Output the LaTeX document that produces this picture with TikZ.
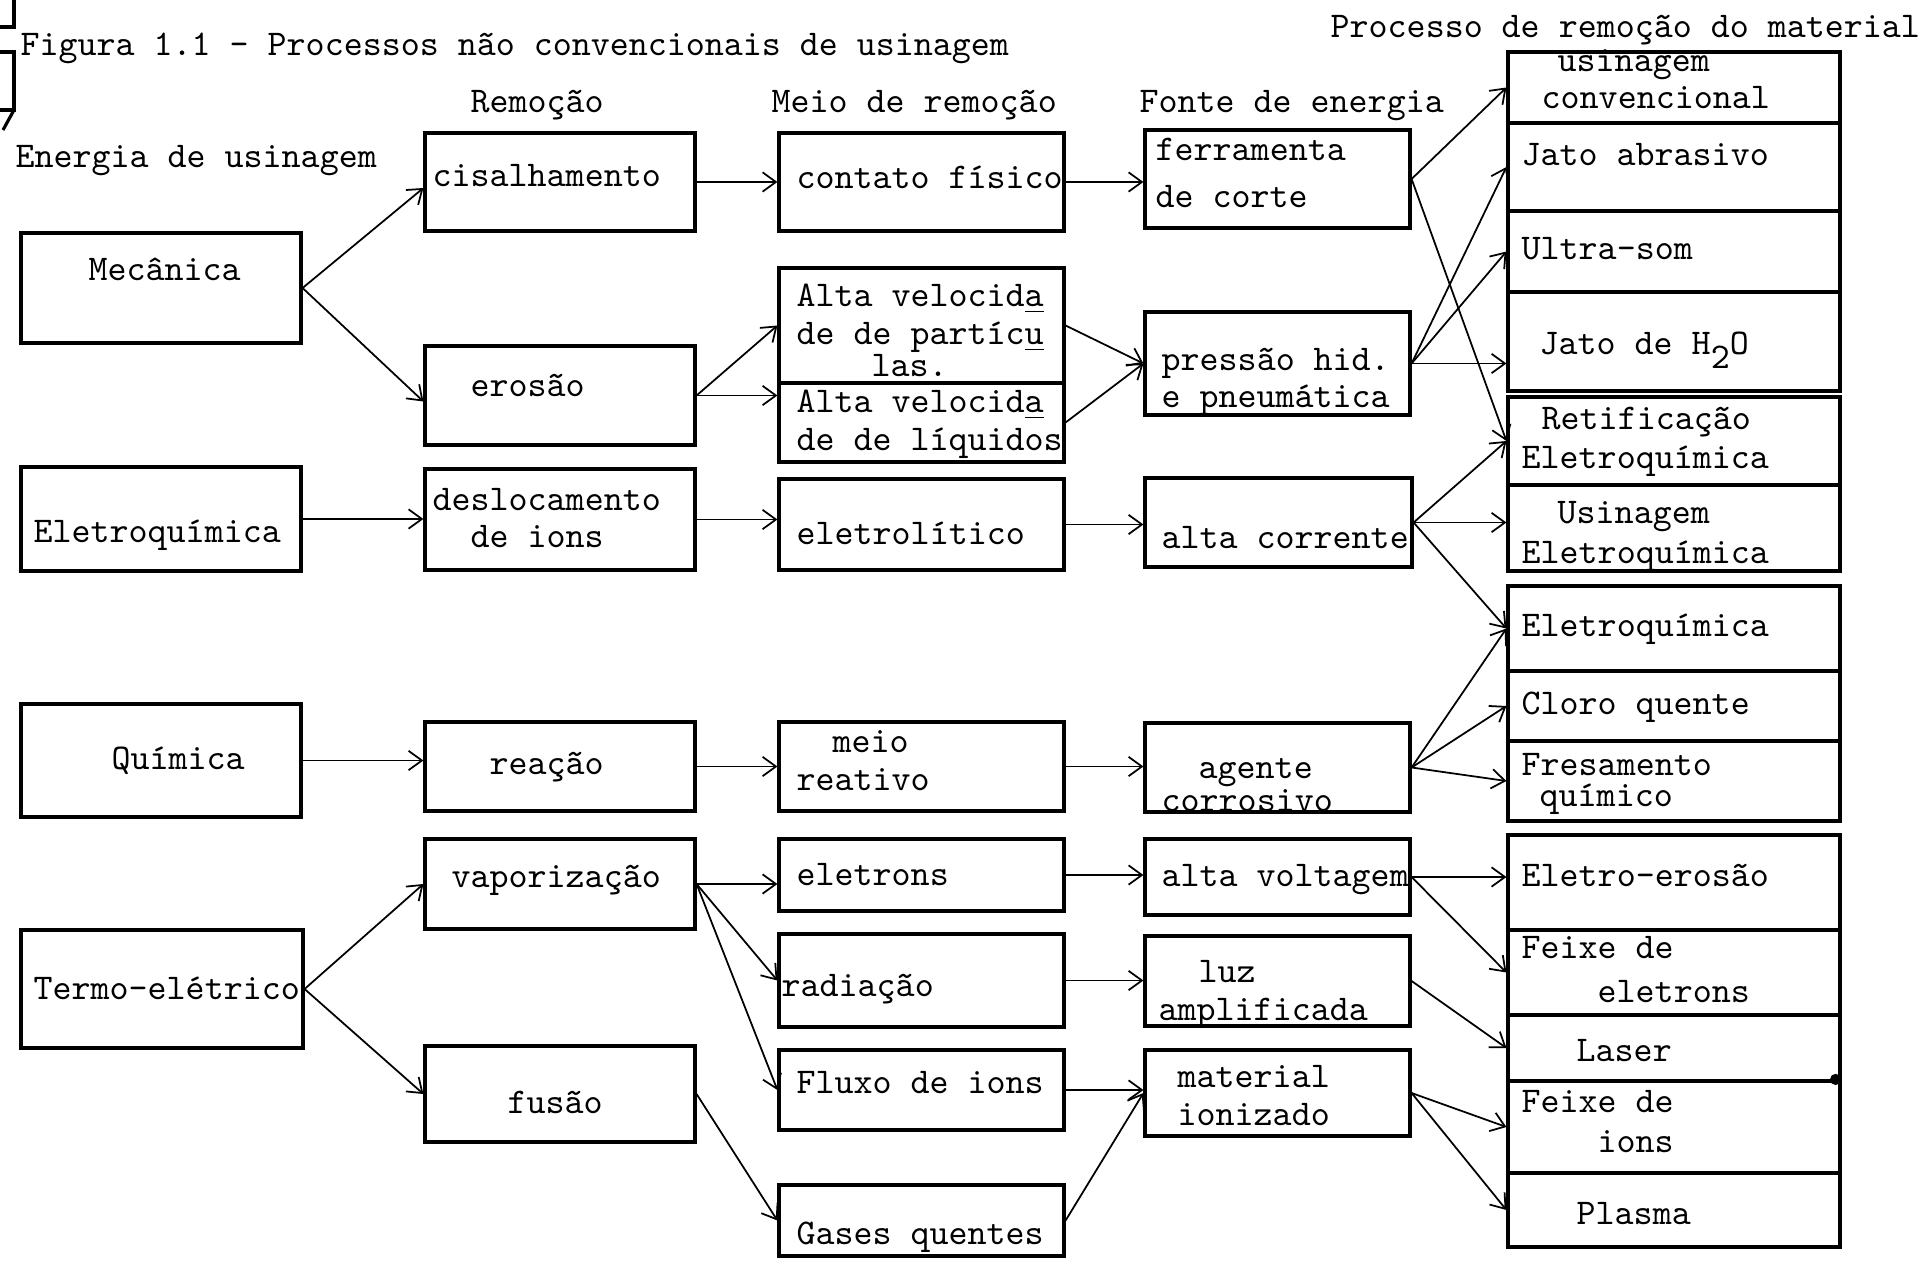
\documentclass[tikz,border=0pt]{standalone}
\usetikzlibrary{arrows.meta, fit}

\begin{document}
\begin{tikzpicture}[
    box/.style={draw, line width=0.9pt, inner sep=0pt},
    txt/.style={inner sep=0pt, anchor=mid west, yshift=-0.03cm, font=\ttfamily\fontsize{10.3}{10.5}\selectfont},
    conn/.style={-{Straight Barb[length=3.8pt, width=5.5pt]}, line width=0.5pt}
]
    \useasboundingbox (0,0) rectangle (19.26,-12.62);

    % Margin marks
    \draw[line width=0.9pt] (0.14,0) -- (0.14,-0.27) -- (0,-0.27);
    \draw[line width=0.9pt] (0,-0.52) -- (0.14,-0.52) -- (0.14,-1.10) -- (0,-1.10);
    \draw[line width=0.9pt] (0.14,-1.10) -- (0.03,-1.30);

    % Headings
    \node[txt] (title) at (0.20,-0.45) {Figura 1.1 - Processos não convencionais de usinagem};
    \node[txt] (h-proc) at (13.30,-0.27) {Processo de remoção do material};
    \node[txt] (h-rem) at (4.70,-1.02) {Remoção};
    \node[txt] (h-meio) at (7.71,-1.02) {Meio de remoção};
    \node[txt] (h-fonte) at (11.39,-1.02) {Fonte de energia};
    \node[txt] (h-ener) at (0.15,-1.57) {Energia de usinagem};

    % Energia de usinagem
    \node[box, fit={(0.21,-2.33) (3.01,-3.43)}] (mec) {};
    \node[box, fit={(0.21,-4.67) (3.01,-5.71)}] (eqm) {};
    \node[box, fit={(0.21,-7.04) (3.01,-8.17)}] (qui) {};
    \node[box, fit={(0.21,-9.30) (3.03,-10.48)}] (ter) {};
    \node[txt] (mec-t) at (0.88,-2.70) {Mecânica};
    \node[txt] (eqm-t) at (0.33,-5.32) {Eletroquímica};
    \node[txt] (qui-t) at (1.11,-7.59) {Química};
    \node[txt] (ter-t) at (0.33,-9.89) {Termo-elétrico};

    % Remocao
    \node[box, fit={(4.25,-1.33) (6.95,-2.31)}] (cis) {};
    \node[box, fit={(4.25,-3.46) (6.95,-4.45)}] (ero) {};
    \node[box, fit={(4.25,-4.69) (6.95,-5.70)}] (des) {};
    \node[box, fit={(4.25,-7.22) (6.95,-8.11)}] (rea) {};
    \node[box, fit={(4.25,-8.39) (6.95,-9.29)}] (vap) {};
    \node[box, fit={(4.25,-10.46) (6.95,-11.42)}] (fus) {};
    \node[txt] (cis-t) at (4.32,-1.76) {cisalhamento};
    \node[txt] (ero-t) at (4.70,-3.86) {erosão};
    \node[txt] (des-a) at (4.32,-5.00) {deslocamento};
    \node[txt] (des-b) at (4.70,-5.37) {de ions};
    \node[txt] (rea-t) at (4.89,-7.64) {reação};
    \node[txt] (vap-t) at (4.51,-8.77) {vaporização};
    \node[txt] (fus-t) at (5.07,-11.03) {fusão};

    % Meio de remocao
    \node[box, fit={(7.79,-1.33) (10.64,-2.31)}] (con) {};
    \node[box, fit={(7.79,-2.68) (10.64,-3.83)}] (par) {};
    \node[box, fit={(7.79,-3.83) (10.64,-4.62)}] (liq) {};
    \node[box, fit={(7.79,-4.79) (10.64,-5.70)}] (elt) {};
    \node[box, fit={(7.79,-7.22) (10.64,-8.11)}] (mei) {};
    \node[box, fit={(7.79,-8.39) (10.64,-9.11)}] (ele) {};
    \node[box, fit={(7.79,-9.34) (10.64,-10.27)}] (rad) {};
    \node[box, fit={(7.79,-10.50) (10.64,-11.30)}] (flu) {};
    \node[box, fit={(7.79,-11.85) (10.64,-12.56)}] (gas) {};
    \node[txt] (con-t) at (7.96,-1.78) {contato físico};
    \node[txt] (par-a) at (7.96,-2.96) {Alta velocid\underline{a}};
    \node[txt] (par-b) at (7.96,-3.34) {de de partíc\underline{u}};
    \node[txt] (par-c) at (8.71,-3.66) {las.};
    \node[txt] (liq-a) at (7.96,-4.02) {Alta velocid\underline{a}};
    \node[txt] (liq-b) at (7.96,-4.40) {de de líquidos};
    \node[txt] (elt-t) at (7.96,-5.34) {eletrolítico};
    \node[txt] (mei-a) at (8.32,-7.42) {meio};
    \node[txt] (mei-b) at (7.96,-7.80) {reativo};
    \node[txt] (ele-t) at (7.96,-8.75) {eletrons};
    \node[txt] (rad-t) at (7.81,-9.86) {radiação};
    \node[txt] (flu-t) at (7.96,-10.83) {Fluxo de ions};
    \node[txt] (gas-t) at (7.96,-12.34) {Gases quentes};

    % Fonte de energia
    \node[box, fit={(11.45,-1.30) (14.10,-2.28)}] (fer) {};
    \node[box, fit={(11.45,-3.12) (14.10,-4.15)}] (pre) {};
    \node[box, fit={(11.45,-4.78) (14.12,-5.67)}] (acor) {};
    \node[box, fit={(11.45,-7.23) (14.10,-8.12)}] (age) {};
    \node[box, fit={(11.45,-8.39) (14.10,-9.15)}] (vol) {};
    \node[box, fit={(11.45,-9.36) (14.10,-10.26)}] (luz) {};
    \node[box, fit={(11.45,-10.50) (14.10,-11.36)}] (mat) {};
    \node[txt] (fer-a) at (11.55,-1.50) {ferramenta};
    \node[txt] (fer-b) at (11.55,-1.97) {de corte};
    \node[txt] (pre-a) at (11.61,-3.60) {pressão hid.};
    \node[txt] (pre-b) at (11.61,-3.97) {e pneumática};
    \node[txt] (acor-t) at (11.61,-5.38) {alta corrente};
    \node[txt] (age-a) at (11.98,-7.68) {agente};
    \node[txt] (age-b) at (11.61,-8.01) {corrosivo};
    \node[txt] (vol-t) at (11.61,-8.76) {alta voltagem};
    \node[txt] (luz-a) at (11.98,-9.72) {luz};
    \node[txt] (luz-b) at (11.58,-10.10) {amplificada};
    \node[txt] (mat-a) at (11.77,-10.77) {material};
    \node[txt] (mat-b) at (11.77,-11.15) {ionizado};

    % Processo de remocao do material
    \node[box, fit={(15.08,-0.52) (18.40,-1.23)}] (usi) {};
    \node[box, fit={(15.08,-1.23) (18.40,-2.11)}] (jab) {};
    \node[box, fit={(15.08,-2.11) (18.40,-2.92)}] (ult) {};
    \node[box, fit={(15.08,-2.92) (18.40,-3.91)}] (jag) {};
    \node[box, fit={(15.08,-3.97) (18.40,-4.85)}] (ret) {};
    \node[box, fit={(15.08,-4.85) (18.40,-5.71)}] (uel) {};
    \node[box, fit={(15.08,-5.86) (18.40,-6.71)}] (elq) {};
    \node[box, fit={(15.08,-6.71) (18.40,-7.41)}] (clo) {};
    \node[box, fit={(15.08,-7.41) (18.40,-8.21)}] (fre) {};
    \node[box, fit={(15.08,-8.35) (18.40,-9.30)}] (eer) {};
    \node[box, fit={(15.08,-9.30) (18.40,-10.15)}] (fel) {};
    \node[box, fit={(15.08,-10.15) (18.40,-10.81)}] (las) {};
    \node[box, fit={(15.08,-10.81) (18.40,-11.73)}] (fio) {};
    \node[box, fit={(15.08,-11.73) (18.40,-12.47)}] (pla) {};
    \fill ([xshift=-0.06cm]fio.north east) circle (1.6pt);
    \node[txt] (usi-a) at (15.57,-0.61) {usinagem};
    \node[txt] (usi-b) at (15.41,-0.98) {convencional};
    \node[txt] (jab-t) at (15.21,-1.55) {Jato abrasivo};
    \node[txt] (ult-t) at (15.21,-2.49) {Ultra-som};
    \node[txt] (jag-t) at (15.39,-3.44) {Jato de H\raisebox{-0.9ex}{2}O};
    \node[txt] (ret-a) at (15.41,-4.19) {Retificação};
    \node[txt] (ret-b) at (15.21,-4.58) {Eletroquímica};
    \node[txt] (uel-a) at (15.57,-5.13) {Usinagem};
    \node[txt] (uel-b) at (15.21,-5.53) {Eletroquímica};
    \node[txt] (elq-t) at (15.21,-6.26) {Eletroquímica};
    \node[txt] (clo-t) at (15.21,-7.04) {Cloro quente};
    \node[txt] (fre-a) at (15.21,-7.65) {Fresamento};
    \node[txt] (fre-b) at (15.39,-7.96) {químico};
    \node[txt] (eer-t) at (15.21,-8.76) {Eletro-erosão};
    \node[txt] (fel-a) at (15.21,-9.48) {Feixe de};
    \node[txt] (fel-b) at (15.97,-9.92) {eletrons};
    \node[txt] (las-t) at (15.76,-10.51) {Laser};
    \node[txt] (fio-a) at (15.21,-11.02) {Feixe de};
    \node[txt] (fio-b) at (15.97,-11.42) {ions};
    \node[txt] (pla-t) at (15.76,-12.14) {Plasma};

    % Mecanica
    \draw[conn] (mec.east) -- ([yshift=-0.06cm]cis.west);
    \draw[conn] (mec.east) -- ([yshift=-0.06cm]ero.west);
    \draw[conn] (cis.east) -- (cis.east -| con.west);
    \draw[conn] (con.east) -- (con.east -| fer.west);
    \draw[conn] (ero.east) -- (par.west);
    \draw[conn] (ero.east) -- (ero.east -| liq.west);
    \draw[conn] (par.east) -- (pre.west);
    \draw[conn] (liq.east) -- (pre.west);
    \draw[conn] (fer.east) -- (usi.west);
    \draw[conn] (fer.east) -- (ret.west);
    \draw[conn] (pre.east) -- (jab.west);
    \draw[conn] (pre.east) -- (ult.west);
    \draw[conn] (pre.east) -- (pre.east -| jag.west);

    % Eletroquimica
    \draw[conn] (eqm.east) -- (eqm.east -| des.west);
    \draw[conn] (des.east) -- (des.east -| elt.west);
    \draw[conn] (elt.east) -- (elt.east -| acor.west);
    \draw[conn] (acor.east) -- (ret.west);
    \draw[conn] (acor.east) -- (acor.east -| uel.west);
    \draw[conn] (acor.east) -- (elq.west);

    % Quimica
    \draw[conn] (qui.east) -- (qui.east -| rea.west);
    \draw[conn] (rea.east) -- (rea.east -| mei.west);
    \draw[conn] (mei.east) -- (mei.east -| age.west);
    \draw[conn] (age.east) -- (elq.west);
    \draw[conn] (age.east) -- (clo.west);
    \draw[conn] (age.east) -- (fre.west);

    % Termo-eletrico
    \draw[conn] (ter.east) -- (vap.west);
    \draw[conn] (ter.east) -- (fus.west);
    \draw[conn] (vap.east) -- (vap.east -| ele.west);
    \draw[conn] (vap.east) -- (rad.west);
    \draw[conn] (vap.east) -- (flu.west);
    \draw[conn] (fus.east) -- (gas.west);
    \draw[conn] (ele.east) -- (ele.east -| vol.west);
    \draw[conn] (rad.east) -- (rad.east -| luz.west);
    \draw[conn] (flu.east) -- (flu.east -| mat.west);
    \draw[conn] (gas.east) -- (mat.west);
    \draw[conn] (vol.east) -- (vol.east -| eer.west);
    \draw[conn] (vol.east) -- (fel.west);
    \draw[conn] (luz.east) -- (las.west);
    \draw[conn] (mat.east) -- (fio.west);
    \draw[conn] (mat.east) -- (pla.west);
\end{tikzpicture}
\end{document}
